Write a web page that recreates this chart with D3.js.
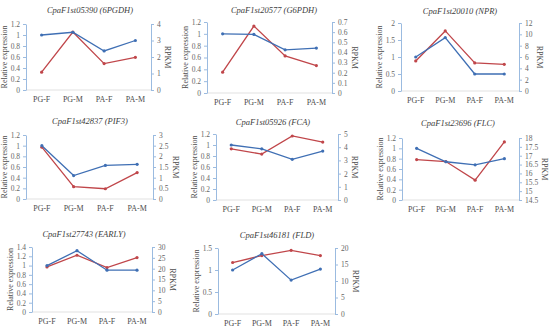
<!DOCTYPE html>
<html>
<head>
<meta charset="utf-8">
<script src="https://cdn.jsdelivr.net/npm/d3@7"></script>
<style>
	body { margin: 0; background: #fff; }
	svg { display: block; }
	svg text { font-family: "Times New Roman", "Liberation Serif", Times, serif; }
</style>
</head>
<body>
<div id="chart"></div>
<script>
var categories = ["PG-F", "PG-M", "PA-F", "PA-M"];

var titles = [
	"CpaF1st05390 (6PGDH)",
	"CpaF1st20577 (G6PDH)",
	"CpaF1st20010 (NPR)",
	"CpaF1st42837 (PIF3)",
	"CpaF1st05926 (FCA)",
	"CpaF1st23696 (FLC)",
	"CpaF1st27743 (EARLY)",
	"CpaF1st46181 (FLD)"
];

// relative expression (left axis, blue)
var relative = [
	[1.0, 1.05, 0.71, 0.9],
	[1.0, 0.99, 0.73, 0.76],
	[1.0, 1.57, 0.5, 0.5],
	[1.0, 0.44, 0.63, 0.65],
	[1.0, 0.93, 0.74, 0.89],
	[1.0, 0.74, 0.68, 0.8],
	[1.0, 1.32, 0.9, 0.9],
	[1.0, 1.37, 0.77, 1.02]
];

// RPKM (right axis, red)
var rpkm = [
	[1.08, 3.51, 1.6, 1.98],
	[0.205, 0.66, 0.366, 0.27],
	[5.3, 10.6, 4.95, 4.7],
	[2.43, 0.58, 0.48, 1.24],
	[3.88, 3.48, 4.85, 4.39],
	[16.78, 16.67, 15.62, 17.78],
	[20.8, 26.2, 20.5, 25.1],
	[15.6, 17.7, 19.3, 17.7]
];

var leftTicks = [
	[0, 0.2, 0.4, 0.6, 0.8, 1, 1.2],
	[0, 0.2, 0.4, 0.6, 0.8, 1, 1.2],
	[0, 0.5, 1, 1.5, 2],
	[0, 0.2, 0.4, 0.6, 0.8, 1, 1.2],
	[0, 0.2, 0.4, 0.6, 0.8, 1, 1.2],
	[0, 0.2, 0.4, 0.6, 0.8, 1, 1.2],
	[0, 0.2, 0.4, 0.6, 0.8, 1, 1.2, 1.4],
	[0, 0.5, 1, 1.5]
];

var rightTicks = [
	[0, 1, 2, 3, 4],
	[0, 0.1, 0.2, 0.3, 0.4, 0.5, 0.6, 0.7],
	[0, 2, 4, 6, 8, 10, 12],
	[0, 0.5, 1, 1.5, 2, 2.5, 3],
	[0, 1, 2, 3, 4, 5],
	[14.5, 15, 15.5, 16, 16.5, 17, 17.5, 18],
	[0, 5, 10, 15, 20, 25, 30],
	[0, 5, 10, 15, 20]
];

// panel frames: plot left, right, top, bottom, title centre x, title y
var frames = [
	{l: 26, r: 151, t: 24, b: 90, tx: 90, ty: 13},
	{l: 207, r: 332, t: 22, b: 93, tx: 274, ty: 13},
	{l: 401, r: 519, t: 23, b: 91, tx: 460, ty: 14},
	{l: 26, r: 153, t: 135, b: 199, tx: 90, ty: 124},
	{l: 216, r: 338, t: 134, b: 200, tx: 273, ty: 125},
	{l: 402, r: 519, t: 138, b: 200, tx: 458, ty: 126},
	{l: 32, r: 152, t: 247, b: 312, tx: 84, ty: 237},
	{l: 218, r: 335, t: 248, b: 314, tx: 277, ty: 238}
];

var blue = "#3f6fb4";
var red = "#c0464a";
var axisColor = "#9bbbe0";

var svg = d3.select("#chart").append("svg")
	.attr("width", 550)
	.attr("height", 328);

var tickFormat = d3.format("~g");

function drawPanel(i) {
	var f = frames[i];
	var g = svg.append("g");

	var x = d3.scaleBand()
		.domain(categories)
		.range([f.l, f.r]);
	var lt = leftTicks[i], rt = rightTicks[i];
	var yLeft = d3.scaleLinear()
		.domain([lt[0], lt[lt.length - 1]])
		.range([f.b, f.t]);
	var yRight = d3.scaleLinear()
		.domain([rt[0], rt[rt.length - 1]])
		.range([f.b, f.t]);

	// baseline
	g.append("line")
		.attr("x1", f.l).attr("x2", f.r)
		.attr("y1", f.b).attr("y2", f.b)
		.attr("stroke", "#d9d9d9")
		.attr("stroke-width", 0.8);

	var left = g.append("g")
		.attr("transform", "translate(" + f.l + ",0)")
		.call(d3.axisLeft(yLeft).tickValues(lt).tickFormat(tickFormat)
			.tickSize(3).tickSizeOuter(0).tickPadding(3));
	var right = g.append("g")
		.attr("transform", "translate(" + f.r + ",0)")
		.call(d3.axisRight(yRight).tickValues(rt).tickFormat(tickFormat)
			.tickSize(3).tickSizeOuter(0).tickPadding(3));
	[left, right].forEach(function(a){
		a.attr("font-size", 7.5);
		a.select(".domain").attr("stroke", axisColor);
		a.selectAll(".tick line").attr("stroke", axisColor);
		a.selectAll(".tick text").attr("fill", "#666");
	});

	var bottom = g.append("g")
		.attr("transform", "translate(0," + f.b + ")")
		.call(d3.axisBottom(x).tickSize(0).tickPadding(6));
	bottom.attr("font-size", 8);
	bottom.select(".domain").remove();
	bottom.selectAll(".tick text").attr("fill", "#4d4d4d");

	g.append("text")
		.attr("x", f.tx).attr("y", f.ty)
		.attr("text-anchor", "middle")
		.attr("font-style", "italic")
		.attr("font-size", 8.5)
		.attr("fill", "#404040")
		.text(titles[i]);

	var midY = (f.t + f.b) / 2;
	g.append("text")
		.attr("transform", "translate(" + (f.l - 19) + "," + midY + ") rotate(-90)")
		.attr("text-anchor", "middle")
		.attr("font-size", 8)
		.attr("fill", "#4d4d4d")
		.text("Relative expression");

	var rb = right.node().getBBox();
	g.append("text")
		.attr("transform", "translate(" + (rb.x + rb.width + f.r + 4) + "," + midY + ") rotate(90)")
		.attr("text-anchor", "middle")
		.attr("font-size", 8)
		.attr("fill", "#4d4d4d")
		.text("RPKM");

	var series = [
		{values: rpkm[i], y: yRight, color: red},
		{values: relative[i], y: yLeft, color: blue}
	];
	series.forEach(function(s){
		var line = d3.line()
			.x(function(d, j){ return x(categories[j]) + x.bandwidth() / 2; })
			.y(function(d){ return s.y(d); });
		g.append("path")
			.datum(s.values)
			.attr("fill", "none")
			.attr("stroke", s.color)
			.attr("stroke-width", 1.3)
			.attr("d", line);
		g.selectAll(null)
			.data(s.values)
			.enter().append("circle")
			.attr("cx", function(d, j){ return x(categories[j]) + x.bandwidth() / 2; })
			.attr("cy", function(d){ return s.y(d); })
			.attr("r", 1.6)
			.attr("fill", s.color);
	});
}

for (var i = 0; i < titles.length; i++) {
	drawPanel(i);
}
</script>
</body>
</html>
